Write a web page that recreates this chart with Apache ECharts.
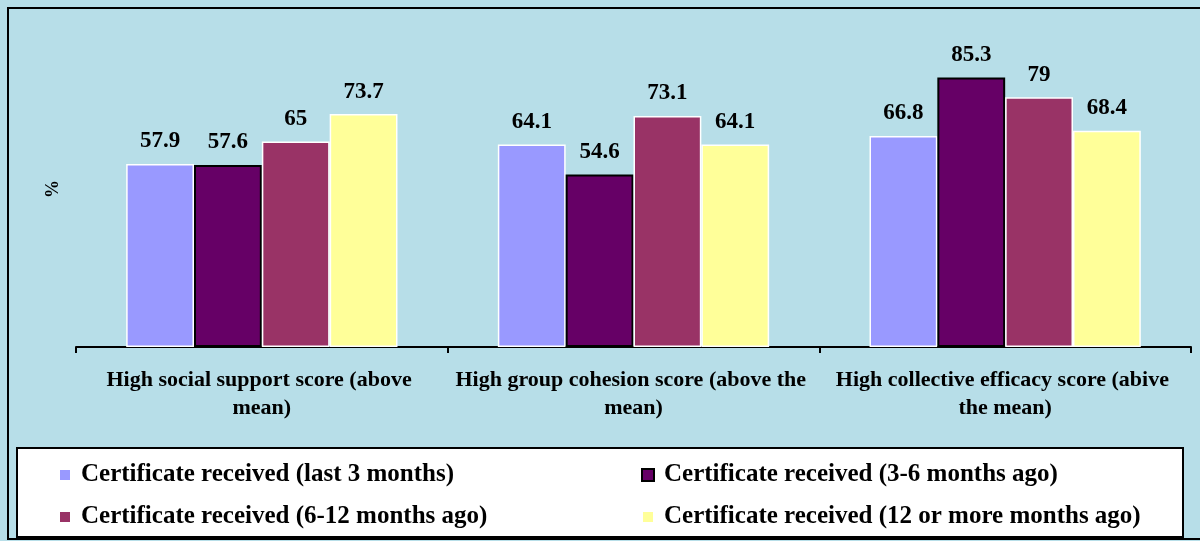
<!DOCTYPE html>
<html>
<head>
<meta charset="utf-8">
<script src="https://cdn.jsdelivr.net/npm/echarts@6/dist/echarts.min.js"></script>
<style>html,body{margin:0;padding:0;background:#B7DEE8;}#c{width:1200px;height:541px;}</style>
</head>
<body>
<div id="c"></div>
<script>
const categories = [
  'High social support score (above mean)',
  'High group cohesion score (above the mean)',
  'High collective efficacy score (abive the mean)'
];
const seriesNames = [
  'Certificate received (last 3 months)',
  'Certificate received (3-6 months ago)',
  'Certificate received (6-12 months ago)',
  'Certificate received (12 or more months ago)'
];
const last3 = [57.9, 64.1, 66.8];
const m3to6 = [57.6, 54.6, 85.3];
const m6to12 = [65, 73.1, 79];
const m12plus = [73.7, 64.1, 68.4];
const colors = ['#9999FF', '#660066', '#993366', '#FFFF99'];
const borders = ['#FFFFFF', '#000000', '#FFFFFF', '#FFFFFF'];
const seriesData = [last3, m3to6, m6to12, m12plus];

const FONT = '"Liberation Serif", "Times New Roman", serif';
const chart = echarts.init(document.getElementById('c'), null, {renderer: 'canvas'});

const series = seriesData.map((d, i) => ({
  name: seriesNames[i],
  type: 'bar',
  data: d,
  barGap: '0%',
  barCategoryGap: '27%',
  itemStyle: { color: colors[i], borderColor: borders[i], borderWidth: i === 1 ? 2 : 1.5 },
  label: {
    show: true, position: 'top', distance: 11,
    color: '#000', fontFamily: FONT, fontWeight: 'bold', fontSize: 23
  },
  emphasis: { disabled: true }
}));

const legendCommon = {
  orient: 'vertical',
  itemWidth: 12, itemHeight: 12, itemGap: 16,
  icon: 'rect',
  textStyle: { fontFamily: FONT, fontWeight: 'bold', fontSize: 25, lineHeight: 26, color: '#000', padding: [0,0,0,5] },
  selectedMode: false
};

chart.setOption({
  backgroundColor: '#B7DEE8',
  animation: false,
  grid: { left: 76, right: 9, top: 31, bottom: 194 },
  xAxis: {
    type: 'category',
    data: categories,
    axisLine: { lineStyle: { color: '#000', width: 2 } },
    axisTick: { show: true, length: 6, lineStyle: { color: '#000', width: 2 } },
    axisLabel: {
      interval: 0, margin: 19, width: 358, overflow: 'break',
      fontFamily: FONT, fontWeight: 'bold', fontSize: 22, lineHeight: 28, color: '#000'
    }
  },
  yAxis: {
    type: 'value', min: 0, max: 100,
    axisLine: { show: false }, axisTick: { show: false }, axisLabel: { show: false },
    splitLine: { show: false },
    name: '%', nameLocation: 'middle', nameRotate: 90, nameGap: 14,
    nameTextStyle: { fontFamily: FONT, fontWeight: 'bold', fontSize: 18, color: '#000' }
  },
  legend: [
    Object.assign({ left: 53, top: 457, data: [seriesNames[0], seriesNames[2]] }, legendCommon),
    Object.assign({ left: 636, top: 457, data: [seriesNames[1], seriesNames[3]] }, legendCommon)
  ],
  graphic: [
    { type: 'rect', z: -1, silent: true, shape: { x: 8, y: 8, width: 1200, height: 531 },
      style: { fill: 'none', stroke: '#000', lineWidth: 2 } },
    { type: 'rect', z: -1, silent: true, shape: { x: 17, y: 448, width: 1166, height: 89 },
      style: { fill: '#FFFFFF', stroke: '#000', lineWidth: 2 } }
  ],
  series: series
});
</script>
</body>
</html>
